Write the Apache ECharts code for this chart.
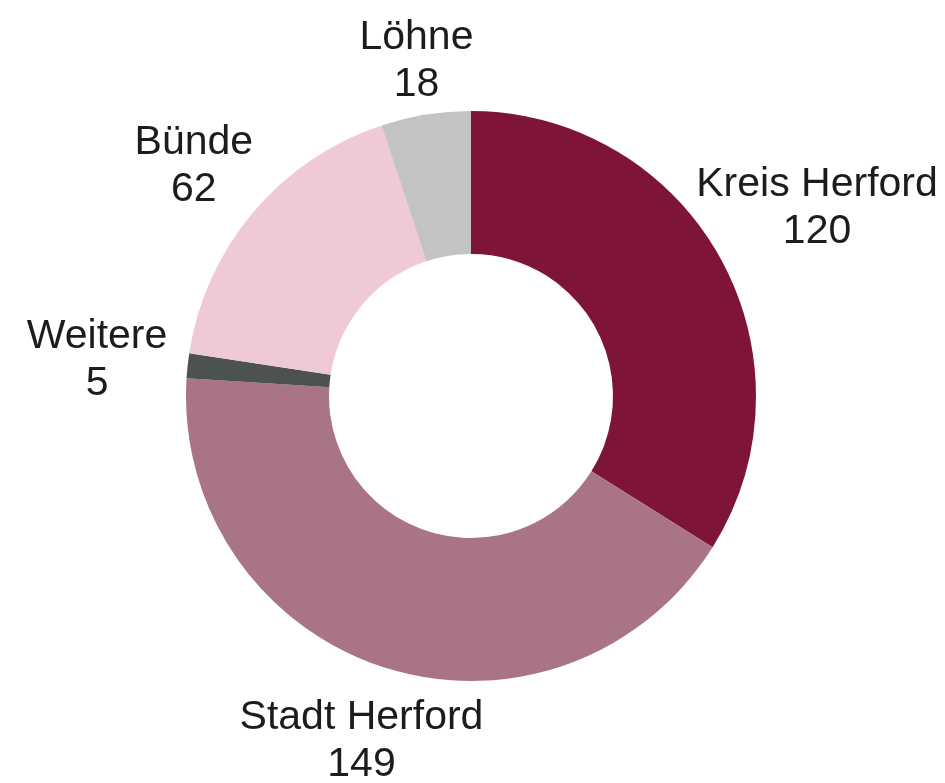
<!DOCTYPE html>
<html>
<head>
<meta charset="utf-8">
<script src="https://cdn.jsdelivr.net/npm/echarts@6/dist/echarts.min.js"></script>
<style>
html,body{margin:0;padding:0;background:#fff;}
#chart{width:945px;height:783px;}
</style>
</head>
<body>
<div id="chart"></div>
<script>
const categories = ['Kreis Herford', 'Stadt Herford', 'Weitere', 'Bünde', 'Löhne'];
const values = [120, 149, 5, 62, 18];
const colors = ['#7e1538', '#a97585', '#4c524f', '#efc9d6', '#c3c3c1'];

const CX = 471, CY = 396, R_OUT = 285, R_IN = 142;
const total = values.reduce((a, b) => a + b, 0);
const mids = [];
let cum = 0;
values.forEach(v => { mids.push((cum + v / 2) / total * 2 * Math.PI); cum += v; });

const chart = echarts.init(document.getElementById('chart'), null, {renderer: 'canvas'});
chart.setOption({
  backgroundColor: '#ffffff',
  animation: false,
  series: [{
    type: 'pie',
    center: [CX, CY],
    radius: [R_IN, R_OUT],
    startAngle: 90,
    clockwise: true,
    avoidLabelOverlap: false,
    data: categories.map((c, i) => ({name: c, value: values[i], itemStyle: {color: colors[i]}})),
    itemStyle: {borderWidth: 0},
    emphasis: {disabled: true},
    label: {
      show: true,
      position: 'inside',
      formatter: '{b}\n{c}',
      color: '#1c1c1c',
      fontFamily: 'Liberation Sans, Arial, sans-serif',
      fontSize: 41,
      lineHeight: 47,
      align: 'center'
    },
    labelLine: {show: false},
    labelLayout: function (p) {
      const a = mids[p.dataIndex];
      const dx = Math.sin(a), dy = -Math.cos(a);
      const d = R_OUT + 53 + 0.545 * (p.labelRect.width / 2) * Math.abs(dx);
      return {x: CX + dx * d, y: CY + dy * d + 4, align: 'center', verticalAlign: 'middle'};
    }
  }]
});
</script>
</body>
</html>
